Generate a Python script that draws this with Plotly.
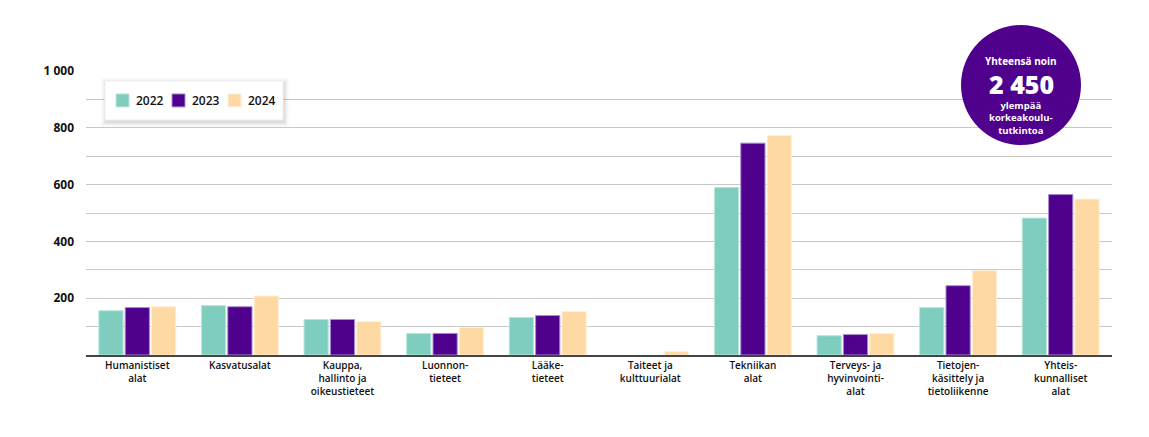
import plotly.graph_objects as go

categories = ["Humanistiset<br>alat", "Kasvatusalat", "Kauppa,<br>hallinto ja<br>oikeustieteet",
              "Luonnon-<br>tieteet", "Lääke-<br>tieteet", "Taiteet ja<br>kulttuurialat",
              "Tekniikan<br>alat", "Terveys- ja<br>hyvinvointi-<br>alat",
              "Tietojen-<br>käsittely ja<br>tietoliikenne", "Yhteis-<br>kunnalliset<br>alat"]
years = ["2022", "2023", "2024"]
v2022 = [156, 174, 125, 76, 132, 0, 590, 68, 167, 482]
v2023 = [167, 170, 125, 76, 139, 0, 746, 72, 244, 565]
v2024 = [170, 208, 118, 97, 153, 12, 773, 76, 297, 549]
tick_vals = [100, 200, 300, 400, 500, 600, 700, 800, 900, 1000]
tick_text = ["", "200", "", "400", "", "600", "", "800", "", "1 000"]

colors = ["#7fcdbf", "#4f008c", "#ffd9a3"]
lines = ["#b9e6dd", "#a98bd0", "#fff0d8"]

# page body has an 8px margin; compensate
OFF = 8
PL, PR, PT, PB = 86, 1112, 71, 355.5   # target plot area in window pixels
W, H = 1141, 429

fig = go.Figure()
for name, vals, c, lc in zip(years, [v2022, v2023, v2024], colors, lines):
    fig.add_trace(go.Bar(x=categories, y=vals, name=name,
                         marker=dict(color=c, line=dict(color=lc, width=[1 if v > 0 else 0 for v in vals]))))

def xp(px):
    return (px - PL) / (PR - PL)

def yp(py):
    return (PB - py) / (PB - PT)

fig.update_layout(
    width=W, height=H,
    margin=dict(l=PL - OFF, r=W - (PR - OFF), t=PT - OFF, b=H - (PB - OFF), autoexpand=False),
    plot_bgcolor="white", paper_bgcolor="white",
    barmode="group", bargap=0.23, bargroupgap=0.08,
    font=dict(family="Open Sans", color="#111"),
    showlegend=False,
    xaxis=dict(showgrid=False, tickfont=dict(size=10, family="Open Sans", weight=600),
               ticks="", showline=True, linecolor="#444", linewidth=2),
    yaxis=dict(range=[0, 1000], tickvals=tick_vals, ticktext=tick_text,
               gridcolor="#c8c8c8", gridwidth=1, zeroline=False, showline=False,
               tickfont=dict(size=12, family="Open Sans", weight=700), ticks="",
               ticklabelstandoff=11),
)

# custom legend box with soft shadow
LX0, LX1, LY0, LY1 = 105, 283, 81, 120
for grow, op in [(5, 0.015), (4, 0.02), (3, 0.025), (2, 0.03), (1, 0.04)]:
    fig.add_shape(type="rect", xref="paper", yref="paper", layer="above",
                  x0=xp(LX0 - grow + 1), x1=xp(LX1 + grow + 1), y0=yp(LY1 + grow + 2), y1=yp(LY0 - grow + 2),
                  fillcolor=f"rgba(0,0,0,{op})", line=dict(width=0))
fig.add_shape(type="rect", xref="paper", yref="paper", layer="above",
              x0=xp(LX0), x1=xp(LX1), y0=yp(LY1), y1=yp(LY0),
              fillcolor="white", line=dict(color="#f0f0f0", width=1))
sw_x = [116, 172, 228]
for sx, yr, c, lc in zip(sw_x, years, colors, lines):
    fig.add_shape(type="rect", xref="paper", yref="paper", layer="above",
                  x0=xp(sx), x1=xp(sx + 13), y0=yp(107), y1=yp(94),
                  fillcolor=c, line=dict(color=lc, width=1))
    fig.add_annotation(x=xp(sx + 18), y=yp(100.5), xref="paper", yref="paper", text=yr,
                       showarrow=False, xanchor="left", yanchor="middle",
                       font=dict(size=12, family="Open Sans", weight=600, color="#111"))

# circle
cx = xp(1021)
fig.add_shape(type="circle", xref="paper", yref="paper", xsizemode="pixel", ysizemode="pixel",
              xanchor=cx, yanchor=yp(85),
              x0=-60, x1=60, y0=-60, y1=60, fillcolor="#4f008c", line=dict(width=0), layer="above")

fig.add_annotation(x=cx, y=yp(61), xref="paper", yref="paper", text="Yhteensä noin", showarrow=False,
                   xanchor="center", yanchor="middle",
                   font=dict(size=10, color="white", family="Open Sans", weight=700))
fig.add_annotation(x=cx, y=yp(84), xref="paper", yref="paper", text="2 450", showarrow=False,
                   xanchor="center", yanchor="middle",
                   font=dict(size=25, color="white", family="Open Sans", weight=800))
fig.add_annotation(x=cx, y=yp(118), xref="paper", yref="paper",
                   text="ylempää<br>korkeakoulu-<br>tutkintoa", showarrow=False,
                   xanchor="center", yanchor="middle",
                   font=dict(size=9.5, color="white", family="Open Sans", weight=700))

fig.write_html("out.html")
